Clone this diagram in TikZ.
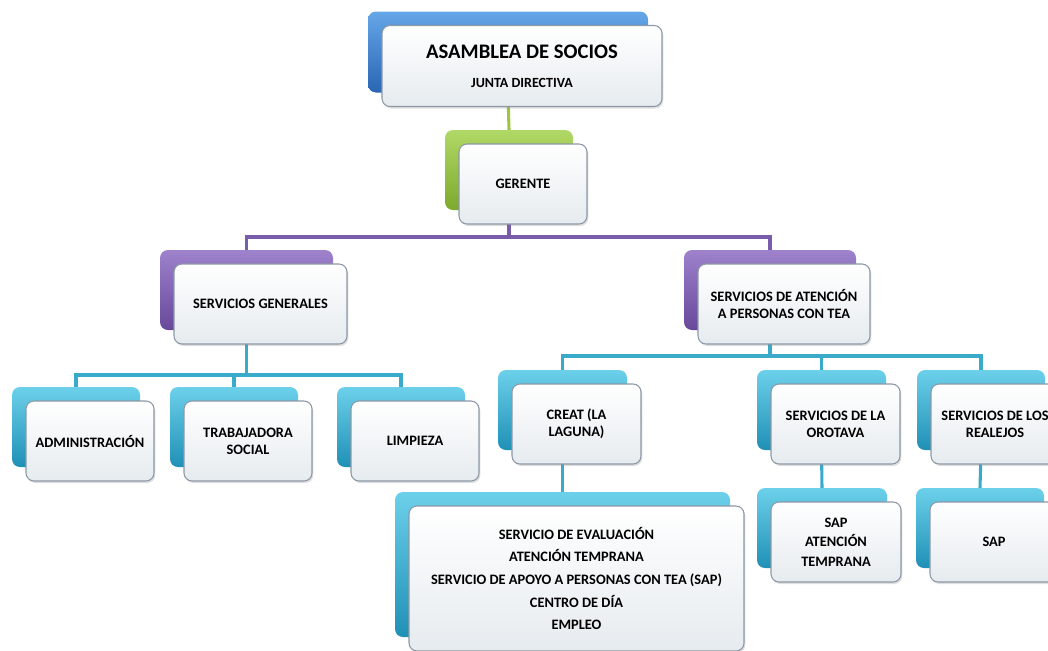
\documentclass[tikz,border=0pt]{standalone}
\usepackage{fontspec}
\setmainfont{Carlito}
\usetikzlibrary{shadows,backgrounds}
\definecolor{blueL}{HTML}{65A6E8}\definecolor{blueD}{HTML}{2A66B4}
\definecolor{greenL}{HTML}{B0D866}\definecolor{greenD}{HTML}{7CAA2C}
\definecolor{purpL}{HTML}{9E82CC}\definecolor{purpD}{HTML}{67489A}
\definecolor{cyanL}{HTML}{6CD0EA}\definecolor{cyanD}{HTML}{1F90B6}
\definecolor{lineG}{HTML}{9CC63F}\definecolor{lineP}{HTML}{7A5DAA}\definecolor{lineC}{HTML}{3AAACB}
\definecolor{frontB}{HTML}{8C98A6}\definecolor{frontF}{HTML}{E6EBEF}
\tikzset{
  backbox/.style={rounded corners=6pt, top color=#1L, bottom color=#1D, draw=none, inner sep=0pt},
  frontbox/.style={rounded corners=6pt, top color=white, bottom color=frontF, draw=frontB, line width=0.8pt,
     drop shadow={opacity=0.25, shadow xshift=1pt, shadow yshift=-1.5pt},
     align=center, inner sep=2pt, font=\bfseries\fontsize{10.8}{12.5}\selectfont},
  bigtext/.style={font=\bfseries\fontsize{10.8}{17}\selectfont},
  saptext/.style={font=\bfseries\fontsize{10.8}{14.5}\selectfont},
  conn/.style={line width=2.3pt, line cap=rect}
}
\newcommand\obox[8][]{%
  \node[backbox=#3, minimum width=#6*0.75pt, minimum height=#7*0.75pt] (#2b) at (#4,#5) {};
  \node[frontbox, minimum width=#6*0.75pt, minimum height=#7*0.75pt, #1] (#2) at ([shift={(14,14)}]#2b.center) {#8};
}
\begin{document}
\begin{tikzpicture}[x=0.75pt,y=-0.75pt]
\useasboundingbox (0,0) rectangle (1048,650);
\clip (0,0) rectangle (1048,650);
\obox{top}{blue}{508}{52}{280}{81}{{\fontsize{15.5}{17}\selectfont ASAMBLEA DE SOCIOS}\\[9pt]{\fontsize{10.5}{12}\selectfont JUNTA DIRECTIVA}}
\obox{ger}{green}{509}{170}{128}{80}{GERENTE}
\obox{sg}{purp}{246.5}{290}{173}{80}{SERVICIOS GENERALES}
\obox{sa}{purp}{770}{290}{172}{80}{SERVICIOS DE ATENCIÓN\\A PERSONAS CON TEA}
\obox{adm}{cyan}{76}{427}{128}{80}{ADMINISTRACIÓN}
\obox{trab}{cyan}{234}{427}{128}{80}{TRABAJADORA\\SOCIAL}
\obox{limp}{cyan}{401}{427}{128}{80}{LIMPIEZA}
\obox{creat}{cyan}{562.5}{410}{129}{80}{CREAT (LA\\LAGUNA)}
\obox{orot}{cyan}{821.5}{410}{129}{80}{SERVICIOS DE LA\\OROTAVA}
\obox{real}{cyan}{981}{410}{128}{80}{SERVICIOS DE LOS\\REALEJOS}
\obox[bigtext]{big}{cyan}{562.5}{564.5}{335}{145}{SERVICIO DE EVALUACIÓN\\ATENCIÓN TEMPRANA\\SERVICIO DE APOYO A PERSONAS CON TEA (SAP)\\CENTRO DE DÍA\\EMPLEO}
\obox[saptext]{sapa}{cyan}{822}{528}{130}{80}{SAP\\ATENCIÓN\\TEMPRANA}
\obox{sapb}{cyan}{980}{528}{128}{80}{SAP}
\begin{pgfonlayer}{background}
\draw[conn, lineG] (topb.south) -- (gerb.north);
\draw[conn, lineP] (gerb.south) -- (gerb.south |- 0,237) -| (sgb.north);
\draw[conn, lineP] (gerb.south |- 0,237) -| (sab.north);
\draw[conn, lineC] (sgb.south) -- (sgb.south |- 0,375) -| (admb.north);
\draw[conn, lineC] (sgb.south |- 0,375) -| (trabb.north);
\draw[conn, lineC] (sgb.south |- 0,375) -| (limpb.north);
\draw[conn, lineC] (sab.south) -- (sab.south |- 0,356) -| (creatb.north);
\draw[conn, lineC] (sab.south |- 0,356) -| (orotb.north);
\draw[conn, lineC] (sab.south |- 0,356) -| (realb.north);
\draw[conn, lineC] (creatb.south) -- (bigb.north);
\draw[conn, lineC] (orotb.south) -- (sapab.north);
\draw[conn, lineC] (realb.south) -- (sapbb.north);
\end{pgfonlayer}
\end{tikzpicture}
\end{document}
